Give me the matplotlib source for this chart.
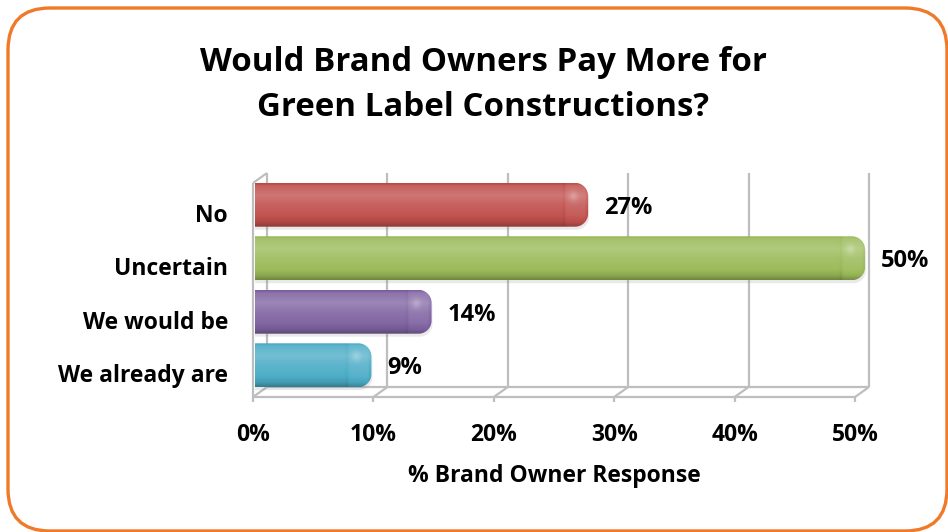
import numpy as np
import matplotlib
matplotlib.use("Agg")
import matplotlib.pyplot as plt
from matplotlib.patches import FancyBboxPatch, PathPatch
from matplotlib.path import Path
from matplotlib.colors import to_rgb

# ---- data ----
categories = ["No", "Uncertain", "We would be", "We already are"]
values = [27, 50, 14, 9]
bar_colors = ["#C0504D", "#9BBB59", "#8064A2", "#4BACC6"]
x_ticks = [0, 10, 20, 30, 40, 50]
tick_labels = ["0%", "10%", "20%", "30%", "40%", "50%"]
title_lines = ["Would Brand Owners Pay More for", "Green Label Constructions?"]
x_label = "% Brand Owner Response"

W, H, DPI = 948, 532, 100
plt.rcParams["font.family"] = ["Open Sans", "DejaVu Sans"]
fig = plt.figure(figsize=(W / DPI, H / DPI), dpi=DPI)


def px_rect(left, top, right, bottom):
    return [left / W, 1 - bottom / H, (right - left) / W, (bottom - top) / H]


# rounded orange frame around the whole chart
frame = FancyBboxPatch((0.08, 0.01), 9.39, 5.23,
                       boxstyle="round,pad=0,rounding_size=0.42",
                       transform=fig.dpi_scale_trans, facecolor="none",
                       edgecolor="#F07A2A", linewidth=2.4, zorder=10)
fig.patches.append(frame)

# front plane of the 3-D plot area
ax = fig.add_axes(px_rect(253, 183, 855, 397))
ax.set_xlim(0, 50)
ax.set_ylim(len(categories) - 0.5, -0.5)
ax.set_autoscale_on(False)
ax.axis("off")
ax.patch.set_visible(False)

# pixels per data unit
p0 = ax.transData.transform((0, 0))
sx = ax.transData.transform((1, 0))[0] - p0[0]
sy = ax.transData.transform((0, 1))[1] - p0[1]  # negative (inverted axis)


def dx(px):
    return px / sx


def dy(px):  # positive px = upwards on screen
    return px / sy


DEPTH_X, DEPTH_Y = dx(14), dy(10)
y_front, y_top = ax.get_ylim()
grid_kw = dict(color="#BEBEBE", lw=1.6, solid_capstyle="butt",
               clip_on=False, zorder=1)

# back wall, floor slants and tick marks
for t in x_ticks:
    ax.plot([t + DEPTH_X, t + DEPTH_X], [y_front + DEPTH_Y, y_top + DEPTH_Y], **grid_kw)
    ax.plot([t, t + DEPTH_X], [y_front, y_front + DEPTH_Y], **grid_kw)
    ax.plot([t, t], [y_front, y_front + dy(-5)], **grid_kw)
# floor edges
ax.plot([x_ticks[0], x_ticks[-1]], [y_front, y_front], **grid_kw)
ax.plot([x_ticks[0] + DEPTH_X, x_ticks[-1] + DEPTH_X],
        [y_front + DEPTH_Y, y_front + DEPTH_Y], **grid_kw)
# left side wall edges
ax.plot([0, 0], [y_front, y_top], **grid_kw)
ax.plot([0, DEPTH_X], [y_top, y_top + DEPTH_Y], **grid_kw)


def bar_path(x0, x1, yt, yb, rx, ry):
    """Bar outline: square left end, rounded right end (data coords)."""
    s = np.sign(yb - yt)
    pts = [(x0, yt), (x1 - rx, yt)]
    cx, cy = x1 - rx, yt + s * ry
    for a in np.linspace(np.pi / 2, 0, 16):
        pts.append((cx + rx * np.cos(a), cy - s * ry * np.sin(a)))
    cx, cy = x1 - rx, yb - s * ry
    for a in np.linspace(0, -np.pi / 2, 16):
        pts.append((cx + rx * np.cos(a), cy - s * ry * np.sin(a)))
    pts.append((x0, yb))
    pts.append((x0, yt))
    codes = [Path.MOVETO] + [Path.LINETO] * (len(pts) - 2) + [Path.CLOSEPOLY]
    return Path(pts, codes)


def shade(c, k):
    c = np.asarray(c)
    return np.where(k[..., None] > 0, c + (1 - c) * k[..., None], c * (1 + k[..., None]))


bar_h = 0.82
r_px = 13
t_stops = [0.0, 0.06, 0.28, 0.5, 0.75, 0.9, 1.0]
k_stops = [-0.06, 0.10, 0.22, 0.10, 0.02, -0.10, -0.28]

for i, (v, col) in enumerate(zip(values, bar_colors)):
    x0 = dx(2)
    x1 = v + dx(10)
    yt = i - bar_h / 2 + DEPTH_Y / 2
    yb = i + bar_h / 2 + DEPTH_Y / 2
    rx, ry = dx(r_px), abs(dy(r_px))

    # soft shadow
    shadow = PathPatch(bar_path(x0, x1 + dx(1), yt + abs(dy(3)), yb + abs(dy(3)), rx, ry),
                       facecolor="#8A8A8A", edgecolor="none", alpha=0.18,
                       clip_on=False, zorder=2)
    ax.add_patch(shadow)

    outline = PathPatch(bar_path(x0, x1, yt, yb, rx, ry), facecolor="none",
                        edgecolor="none", transform=ax.transData)
    ax.add_patch(outline)

    ny = 60
    nx = max(int((x1 - x0) * sx), 2)
    tt = np.linspace(0, 1, ny)[:, None] * np.ones((1, nx))
    k = np.interp(tt, t_stops, k_stops)
    d = ((x1 - x0) * sx) * (1 - np.linspace(0, 1, nx))[None, :] * np.ones((ny, 1))
    k = k + 0.05 * (d < 24) - 0.04 * np.exp(-((d - 24) / 2.0) ** 2)
    k = k + 0.18 * np.exp(-(((d - 15) / 4.5) ** 2 + ((tt - 0.3) / 0.12) ** 2))
    k = k - 0.12 * np.clip((4 - d) / 4, 0, 1)
    k = np.clip(k, -0.6, 0.8)
    img = shade(to_rgb(col), k)
    im = ax.imshow(img, extent=(x0, x1, yb, yt), origin="upper", aspect="auto",
                   interpolation="bilinear", zorder=3)
    im.set_clip_box(fig.bbox)
    im.set_clip_path(outline)

    # value label
    ax.annotate(f"{v}%", xy=(v, i), xytext=(26, -4), textcoords="offset pixels",
                ha="left", va="baseline", fontsize=17, fontweight="bold",
                color="black", annotation_clip=False, zorder=5)

# category labels
for i, cat in enumerate(categories):
    ax.annotate(cat, xy=(0, i), xytext=(-25, -12), textcoords="offset pixels",
                ha="right", va="baseline", fontsize=16.5, fontweight="bold",
                color="black", annotation_clip=False)

# x tick labels
for t, lab in zip(x_ticks, tick_labels):
    ax.annotate(lab, xy=(t, y_front), xytext=(0, -44), textcoords="offset pixels",
                ha="center", va="baseline", fontsize=16.5, fontweight="bold",
                color="black", annotation_clip=False)

# axis title
ax.annotate(x_label, xy=(25, y_front), xytext=(0, -85), textcoords="offset pixels",
            ha="center", va="baseline", fontsize=16.5, fontweight="bold",
            color="black", annotation_clip=False)

# chart title
fig.text(483 / W, 1 - 71 / H, title_lines[0], ha="center", va="baseline",
         fontsize=23.8, fontweight="bold", color="black")
fig.text(483 / W, 1 - 116 / H, title_lines[1], ha="center", va="baseline",
         fontsize=23.8, fontweight="bold", color="black")

ax.set_xlim(0, 50)
ax.set_ylim(len(categories) - 0.5, -0.5)
fig.savefig("out.png", dpi=DPI, facecolor="white")
